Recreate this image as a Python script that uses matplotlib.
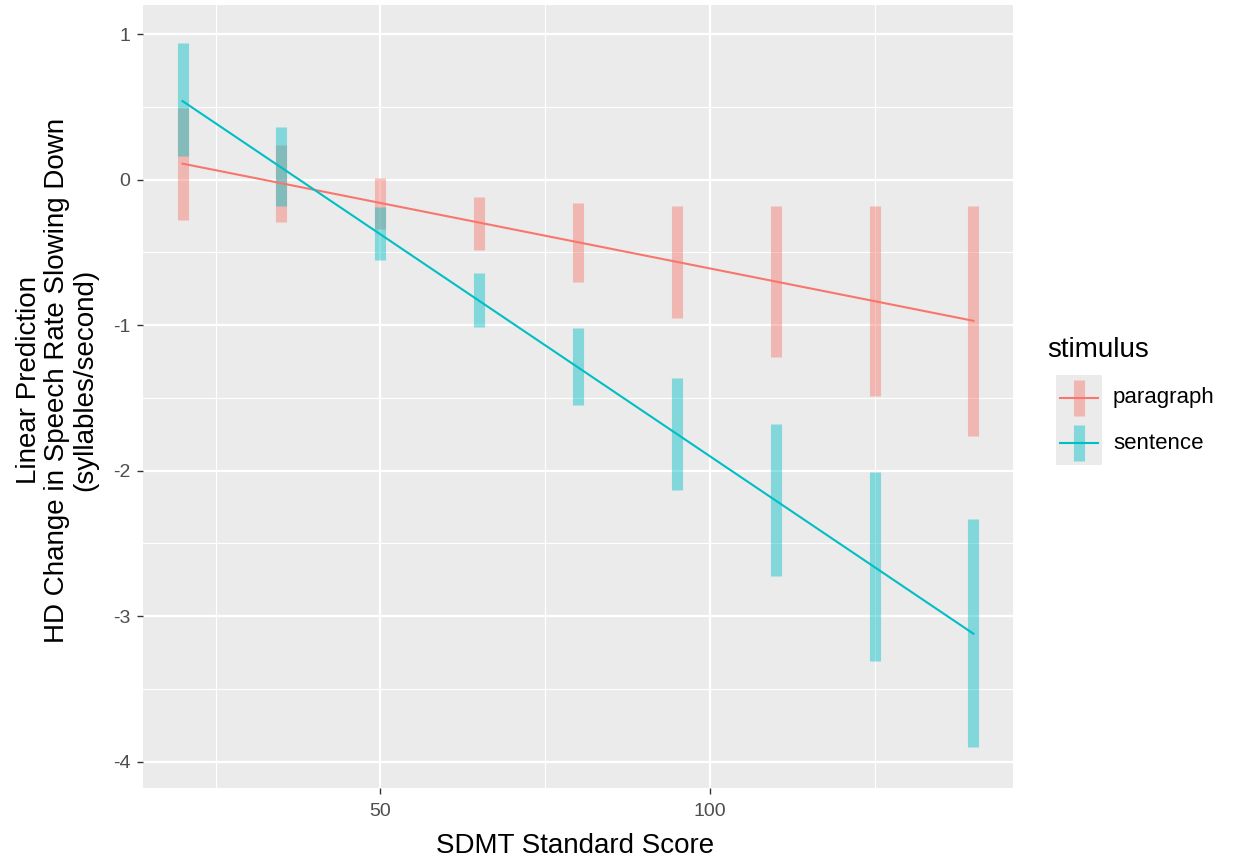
import matplotlib
matplotlib.use("Agg")
from matplotlib import pyplot as plt
import numpy as np

plt.rcParams["font.family"] = ["Liberation Sans", "DejaVu Sans"]
plt.rcParams["axes.unicode_minus"] = False

# SDMT scores where predictions were evaluated
sdmt = [20, 35, 50, 65, 80, 95, 110, 125, 140]

# fitted line end points per stimulus
para_fit = [0.11, -0.97]
sent_fit = [0.54, -3.12]

# confidence intervals (lower, upper)
para_lo = [-0.28, -0.29, -0.34, -0.48, -0.70, -0.95, -1.22, -1.49, -1.76]
para_hi = [0.49, 0.24, 0.01, -0.12, -0.16, -0.18, -0.18, -0.18, -0.18]
sent_lo = [0.16, -0.18, -0.55, -1.01, -1.55, -2.13, -2.72, -3.31, -3.90]
sent_hi = [0.94, 0.36, -0.19, -0.64, -1.02, -1.36, -1.68, -2.01, -2.33]

stimuli = ["paragraph", "sentence"]
colors = {"paragraph": "#F8766D", "sentence": "#00BFC4"}

W, H = 1234, 859
fig = plt.figure(figsize=(W / 100, H / 100), dpi=100)
ax = fig.add_axes([143 / W, 1 - 788 / H, (1013 - 143) / W, (788 - 5) / H])
ax.set_facecolor("#EBEBEB")
for s in ax.spines.values():
    s.set_visible(False)

ax.set_xlim(14, 146)
ax.set_ylim(-4.18, 1.2)
ax.set_xticks([50, 100])
ax.set_xticks([25, 75, 125], minor=True)
ax.set_yticks([-4, -3, -2, -1, 0, 1])
ax.set_yticks([-3.5, -2.5, -1.5, -0.5, 0.5], minor=True)
ax.grid(True, which="major", color="white", linewidth=1.6)
ax.grid(True, which="minor", color="white", linewidth=0.8)
ax.set_axisbelow(True)
ax.tick_params(which="major", length=4, width=1, color="#333333",
               labelcolor="#4D4D4D", labelsize=14)
ax.tick_params(axis="x", which="major", pad=7)
ax.tick_params(axis="y", which="major", pad=5)
ax.tick_params(which="minor", length=0)

data = {
    "paragraph": (para_lo, para_hi, para_fit),
    "sentence": (sent_lo, sent_hi, sent_fit),
}
for st in stimuli:
    lo, hi, fit = data[st]
    ax.vlines(sdmt, lo, hi, color=colors[st], alpha=0.45, linewidth=8, zorder=2)
for st in stimuli:
    lo, hi, fit = data[st]
    ax.plot([sdmt[0], sdmt[-1]], fit, color=colors[st], linewidth=1.5, zorder=3)

ax.set_xlabel("SDMT Standard Score", fontsize=20)
ax.xaxis.set_label_coords(0.497, -0.057)
ax.set_ylabel("Linear Prediction\nHD Change in Speech Rate Slowing Down\n(syllables/second)",
              fontsize=20, linespacing=1.1)
ax.yaxis.set_label_coords(-0.052, 0.521)

# legend drawn by hand, ggplot style
fig.text(1047 / W, 1 - 350 / H, "stimulus", fontsize=20, va="center", ha="left")
kax = fig.add_axes([1056 / W, 1 - 465 / H, 46 / W, 90 / H])
kax.set_xlim(0, 1)
kax.set_ylim(0, 2)
kax.axis("off")
for i, st in enumerate(stimuli):
    y0 = 1 - i
    kax.add_patch(plt.Rectangle((0, y0), 1, 1, color="#EBEBEB", lw=0))
    kax.plot([0.5, 0.5], [y0 + 0.1, y0 + 0.9], color=colors[st], alpha=0.45,
             linewidth=8, solid_capstyle="butt")
    kax.plot([0.08, 0.92], [y0 + 0.5, y0 + 0.5], color=colors[st], linewidth=1.5)
    fig.text(1113 / W, 1 - (398 + 45 * i) / H, st, fontsize=16,
             va="center", ha="left", color="black")

fig.savefig("out.png", dpi=100)
